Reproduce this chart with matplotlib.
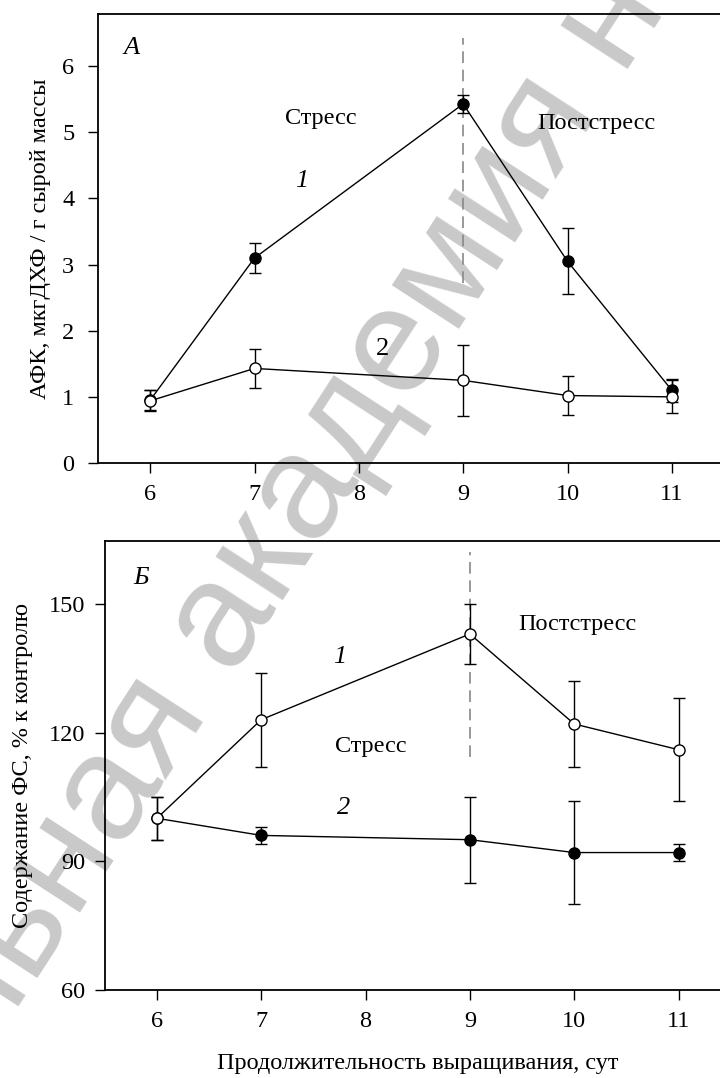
import matplotlib.pyplot as plt

plt.rcParams['font.family'] = ['Liberation Serif', 'DejaVu Serif']

days = [6, 7, 9, 10, 11]

# panel A: АФК
afk_1 = [0.95, 3.10, 5.43, 3.05, 1.10]
afk_1_err = [0.15, 0.23, 0.14, 0.50, 0.17]
afk_2 = [0.94, 1.43, 1.25, 1.02, 1.00]
afk_2_err = [0.16, 0.30, 0.54, 0.30, 0.25]

# panel Б: ФС, % к контролю
fs_1 = [100, 123, 143, 122, 116]
fs_1_err = [5, 11, 7, 10, 12]
fs_2 = [100, 96, 95, 92, 92]
fs_2_err = [5, 2, 10, 12, 2]

x_ticks = [6, 7, 8, 9, 10, 11]
FS = 17.5

fig = plt.figure(figsize=(7.2, 10.78), dpi=100)

# light diagonal watermark behind everything
fig.text(316 / 720, 1 - 478 / 1078, 'льная академия на', rotation=57,
         ha='center', va='center', fontsize=108, color='#c9c9c9',
         family='Liberation Sans', zorder=-1)

ax1 = fig.add_axes([98 / 720, 1 - 463 / 1078, 626 / 720, 449 / 1078])
ax2 = fig.add_axes([104.7 / 720, 1 - 989.7 / 1078, 626 / 720, 448.3 / 1078])

err_kw = dict(color='black', lw=1.0, elinewidth=1.0, capsize=4.2, capthick=1.0,
              markersize=8, markeredgecolor='black', markeredgewidth=1.0)


def style_axes(ax, ypad):
    ax.set_facecolor('none')
    for s in ax.spines.values():
        s.set_linewidth(1.3)
    ax.set_xlim(5.5, 11.5)
    ax.set_xticks(x_ticks)
    ax.tick_params(direction='out', length=7, width=1.0, labelsize=FS)
    ax.tick_params(axis='x', pad=8)
    ax.tick_params(axis='y', pad=ypad)


# --- panel A ---
ax1.errorbar(days, afk_1, yerr=afk_1_err, fmt='-o', markerfacecolor='black', zorder=3, **err_kw)
ax1.errorbar(days, afk_2, yerr=afk_2_err, fmt='-o', markerfacecolor='white', zorder=4, **err_kw)
ax1.plot([9, 9], [2.72, 6.42], color='#888888', lw=1.2, dashes=(7, 4), zorder=2)
style_axes(ax1, 10)
ax1.set_ylim(0, 6.79)
ax1.set_yticks(range(0, 7))
ax1.set_ylabel('АФК, мкгДХФ / г сырой массы', fontsize=FS)
ax1.yaxis.set_label_coords(-0.075, 0.5)
ax1.text(5.82, 6.27, 'А', fontsize=19, style='italic', ha='center', va='center')
ax1.text(7.64, 5.21, 'Стресс', fontsize=FS, ha='center', va='center')
ax1.text(10.28, 5.13, 'Постстресс', fontsize=FS, ha='center', va='center')
ax1.text(7.45, 4.27, '1', fontsize=19, style='italic', ha='center', va='center')
ax1.text(8.23, 1.73, '2', fontsize=19, ha='center', va='center')

# --- panel Б ---
ax2.errorbar(days, fs_2, yerr=fs_2_err, fmt='-o', markerfacecolor='black', zorder=3, **err_kw)
ax2.errorbar(days, fs_1, yerr=fs_1_err, fmt='-o', markerfacecolor='white', zorder=4, **err_kw)
ax2.plot([9, 9], [114.4, 162.2], color='#888888', lw=1.2, dashes=(7, 4), zorder=2)
style_axes(ax2, 7)
ax2.set_ylim(60, 164.6)
ax2.set_yticks([60, 90, 120, 150])
ax2.set_ylabel('Содержание ФС, % к контролю', fontsize=FS)
ax2.yaxis.set_label_coords(-0.115, 0.5)
ax2.text(5.85, 156, 'Б', fontsize=19, style='italic', ha='center', va='center')
ax2.text(10.03, 145.2, 'Постстресс', fontsize=FS, ha='center', va='center')
ax2.text(8.05, 116.7, 'Стресс', fontsize=FS, ha='center', va='center')
ax2.text(7.75, 137.7, '1', fontsize=19, style='italic', ha='center', va='center')
ax2.text(7.79, 102.4, '2', fontsize=19, style='italic', ha='center', va='center')

fig.text(418 / 720, 1 - 1064 / 1078, 'Продолжительность выращивания, сут',
         fontsize=FS, ha='center', va='center')

plt.savefig('out.png', dpi=100)
